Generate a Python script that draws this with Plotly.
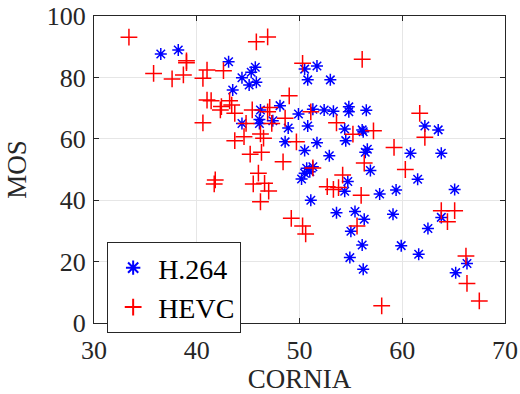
import plotly.graph_objects as go

h264_x = [36.5, 38.2, 43.1, 43.5, 45.7, 45.3, 44.4, 45.8, 45.1, 50.5, 51.7, 50.8, 53.0,
          48.1, 46.2, 49.9, 51.3, 52.4, 53.3, 54.8, 54.8, 56.5, 44.4, 46.1, 46.1, 47.4,
          48.9, 50.8, 54.4, 56.1, 56.2, 54.5, 48.6, 51.7, 50.5, 52.9, 50.7, 51.3, 50.5,
          51.0, 50.2, 51.1, 54.7, 54.4, 56.6, 56.4, 56.9, 53.6, 55.4, 56.3, 55.0, 62.2,
          63.5, 60.8, 63.8, 61.5, 65.1, 57.8, 59.4, 63.8, 59.1, 62.5, 56.1, 59.9, 61.6,
          66.3, 65.2, 56.2, 54.9]
h264_y = [87.6, 88.9, 85.1, 75.9, 83.3, 81.7, 79.9, 78.4, 77.5, 82.7, 83.7, 79.2, 79.2,
          70.8, 69.4, 68.1, 69.6, 69.4, 69.0, 70.4, 68.8, 69.3, 65.0, 66.3, 65.0, 65.9,
          63.5, 64.2, 63.2, 62.9, 62.3, 59.4, 59.0, 58.7, 56.2, 54.5, 50.4, 50.9, 48.8,
          49.3, 46.9, 40.0, 46.1, 42.9, 56.6, 55.6, 49.7, 35.9, 36.3, 33.8, 29.9, 64.2,
          62.9, 55.3, 55.3, 46.8, 43.5, 42.0, 43.3, 34.4, 35.4, 30.8, 25.4, 25.2, 22.4,
          19.4, 16.4, 17.5, 21.3]

hevc_x = [33.4, 39.0, 39.0, 35.8, 37.6, 38.7, 41.0, 40.6, 42.6, 41.0, 41.4, 42.4, 42.3,
          40.6, 45.8, 46.9, 50.3, 56.1, 49.0, 43.2, 43.4, 43.7, 45.4, 47.1, 46.9, 51.1,
          44.8, 47.3, 48.6, 53.6, 57.2, 61.7, 41.8, 41.7, 55.2, 43.7, 44.6, 46.2, 46.5,
          49.7, 45.2, 46.3, 48.4, 51.3, 46.0, 45.5, 46.6, 47.0, 46.2, 54.2, 52.7, 53.3,
          53.8, 56.0, 56.3, 55.6, 49.2, 50.3, 50.6, 62.2, 59.2, 60.3, 63.8, 65.1, 64.4,
          66.2, 66.3, 67.5, 58.0]
hevc_y = [93.1, 85.4, 84.8, 81.3, 79.5, 80.8, 82.4, 79.7, 82.2, 72.6, 72.4, 70.5, 69.4,
          65.2, 91.6, 93.2, 84.6, 85.9, 74.0, 72.4, 71.0, 68.3, 69.4, 70.2, 68.8, 68.8,
          65.0, 65.0, 66.7, 65.2, 62.6, 68.3, 46.6, 45.3, 61.5, 59.4, 60.7, 61.6, 60.2,
          59.0, 55.0, 55.6, 52.5, 50.5, 48.8, 45.3, 45.5, 43.0, 39.5, 48.2, 44.4, 43.5,
          44.1, 41.6, 52.1, 31.6, 34.1, 31.6, 29.0, 60.5, 57.2, 50.0, 36.6, 36.6, 33.0,
          21.8, 12.9, 7.2, 5.6]

x_ticks = [30, 40, 50, 60, 70]
y_ticks = [0, 20, 40, 60, 80, 100]

FONT = "Liberation Serif"
AX = "#262626"

fig = go.Figure()
fig.add_trace(go.Scatter(
    x=h264_x, y=h264_y, mode="markers", name="H.264",
    marker=dict(symbol="asterisk-open", size=10, color="blue",
                line=dict(color="blue", width=1.5)),
))
fig.add_trace(go.Scatter(
    x=hevc_x, y=hevc_y, mode="markers", name="HEVC",
    marker=dict(symbol="cross-thin-open", size=12, color="red",
                line=dict(color="red", width=1.5)),
))

axis_common = dict(
    showline=True, linecolor=AX, linewidth=1, mirror="ticks",
    ticks="inside", ticklen=5, tickcolor=AX,
    showgrid=True, gridcolor="#e6e6e6", gridwidth=1, zeroline=False,
    automargin=False,
)

fig.update_xaxes(range=[30, 70], tickvals=x_ticks,
                 tickfont=dict(family=FONT, size=26, color=AX), ticklabelstandoff=4,
                 title=dict(text="CORNIA", font=dict(family=FONT, size=27, color=AX), standoff=12),
                 **axis_common)
fig.update_yaxes(range=[0, 100], tickvals=y_ticks,
                 tickfont=dict(family=FONT, size=26, color=AX), ticklabelstandoff=2,
                 title=dict(text="MOS", font=dict(family=FONT, size=27, color=AX), standoff=12),
                 **axis_common)

fig.update_layout(
    width=520, height=394,
    margin=dict(l=94, r=15, t=16, b=71),
    paper_bgcolor="white", plot_bgcolor="white",
    showlegend=True,
    legend=dict(x=0.032, y=0.264, xanchor="left", yanchor="top",
                bgcolor="white", bordercolor=AX, borderwidth=1,
                font=dict(family=FONT, size=28, color="black"),
                itemsizing="constant", itemwidth=40, tracegroupgap=0),
)

fig.write_html("out.html")
